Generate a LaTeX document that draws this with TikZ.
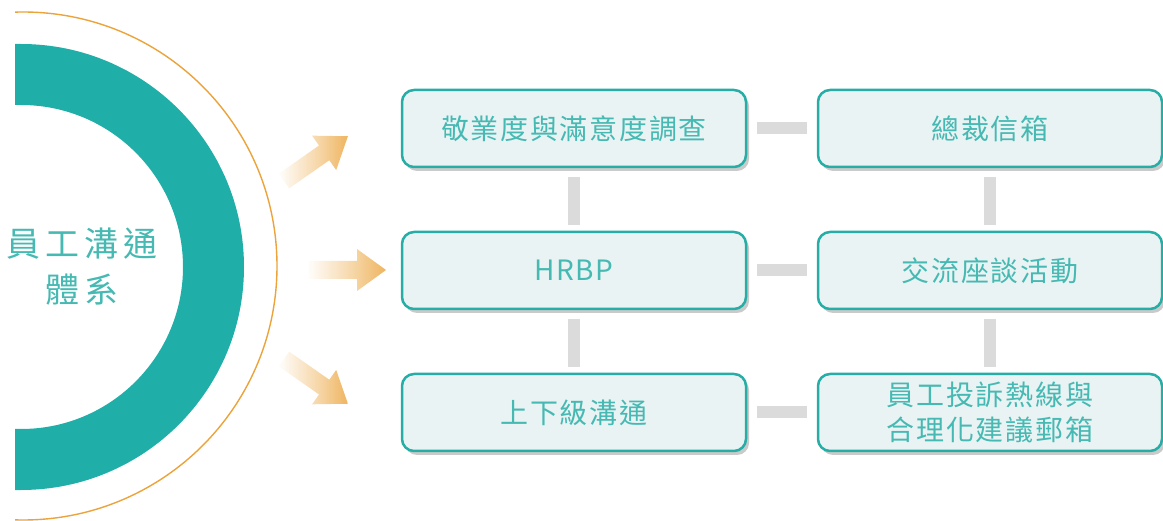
\documentclass[tikz,border=0pt]{standalone}
\usepackage{fontspec}
\newfontfamily\cjk[LetterSpace=6]{Noto Sans CJK TC}
\newfontfamily\cjkt[LetterSpace=15]{Noto Sans CJK TC}
\usetikzlibrary{shadows,fadings}
\definecolor{teal}{HTML}{1FAEA8}
\definecolor{tealline}{HTML}{26ADA6}
\definecolor{tealtext}{HTML}{45B9B2}
\definecolor{boxfill}{HTML}{E9F3F4}
\definecolor{conngray}{HTML}{DBDBDB}
\definecolor{orng}{HTML}{EBA33A}
\pgfdeclarehorizontalshading{arrmask}{100bp}{color(0bp)=(black); color(37bp)=(black); color(52bp)=(black!55); color(68bp)=(white); color(100bp)=(white)}
\begin{tikzfadingfrompicture}[name=arrfd]
\shade[shading=arrmask] (-50bp,-50bp) rectangle (50bp,50bp);
\end{tikzfadingfrompicture}
\tikzset{
  itembox/.style={draw=tealline, line width=2.5pt, fill=boxfill, rounded corners=12pt,
    minimum width=344pt, minimum height=77pt, inner sep=0pt, text=tealtext,
    font=\cjk\fontsize{28}{35}\selectfont, align=center,
    drop shadow={shadow xshift=3pt, shadow yshift=-4pt, opacity=0.35, fill=black!60}},
  conn/.style={draw=conngray, line width=12pt},
  hconn/.style={conn, shorten <=10pt, shorten >=10pt},
  vconn/.style={conn, shorten <=9pt, shorten >=6pt},
  fadearrow/.style={fill=orng, path fading=arrfd, draw=none}
}
\begin{document}
\begin{tikzpicture}[x=1pt,y=1pt]
\useasboundingbox (0,0) rectangle (1163,-521);
% orange thin arc
\begin{scope}
\clip (15,0) rectangle (1163,-521);
\draw[orng, line width=1.4pt] (23,-266) circle[radius=254];
\end{scope}
% teal band
\fill[teal] (15,-44) -- (21,-44) arc[start angle=90, end angle=-90, radius=223]
  -- (15,-490) -- (15,-429) -- (21,-429) arc[start angle=-90, end angle=90, radius=162]
  -- (15,-105) -- cycle;
% title
\node[text=tealtext, font=\cjkt\fontsize{34}{46}\selectfont, align=center] (title) at (82,-267) {員工溝通\\體系};
% arrows
\foreach \tx/\ty/\ang in {284/-181/35, 308/-270/0, 284/-359/-35}{
  \begin{scope}[shift={(\tx,\ty)}, rotate=\ang]
    \fill[fadearrow] (0,-9) -- (49,-9) -- (49,-21) -- (78,0) -- (49,21) -- (49,9) -- (0,9) -- cycle;
  \end{scope}
}
% boxes
\node[itembox] (b1) at (574,-128.5) {敬業度與滿意度調查};
\node[itembox] (b2) at (574,-270.5) {HRBP};
\node[itembox] (b3) at (574,-412.5) {上下級溝通};
\node[itembox] (c1) at (990,-128.5) {總裁信箱};
\node[itembox] (c2) at (990,-270.5) {交流座談活動};
\node[itembox] (c3) at (990,-412.5) {員工投訴熱線與\\合理化建議郵箱};
% connectors
\draw[hconn] (b1.east) -- (c1.west);
\draw[hconn] (b2.east) -- (c2.west);
\draw[hconn] (b3.east) -- (c3.west);
\draw[vconn] (b1.south) -- (b2.north);
\draw[vconn] (b2.south) -- (b3.north);
\draw[vconn] (c1.south) -- (c2.north);
\draw[vconn] (c2.south) -- (c3.north);
\end{tikzpicture}
\end{document}
